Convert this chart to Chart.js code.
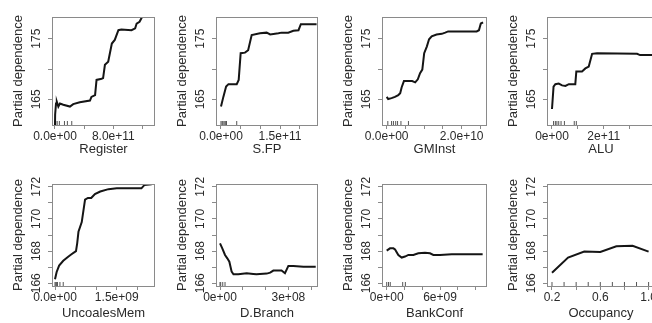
<!DOCTYPE html>
<html>
<head>
<meta charset="utf-8">
<script src="https://cdn.jsdelivr.net/npm/chart.js@4.4.0/dist/chart.umd.min.js"></script>
<style>
  html, body { margin: 0; padding: 0; background: #fff; overflow: hidden; }
  body { width: 652px; height: 323px; position: relative; }
  canvas { position: absolute; }
</style>
</head>
<body>
<script>
// partial dependence curves

const registerX = [0, 0.02e11, 0.14e11, 0.25e11, 0.46e11, 0.68e11, 1.14e11, 2.05e11, 2.5e11, 3.4e11, 4.8e11, 5.0e11, 5.5e11, 5.7e11, 6.4e11, 6.6e11, 6.85e11, 7.3e11, 7.8e11, 8.2e11, 8.7e11, 9.1e11, 10.5e11, 11.0e11, 11.2e11, 11.6e11, 12.0e11, 12.4e11];
const registerY = [160.5, 162.5, 164.3, 164.6, 163.8, 164.3, 164.1, 163.8, 164.2, 164.5, 164.8, 165.4, 165.7, 168.2, 168.4, 168.5, 170.7, 171.2, 174.2, 174.8, 176.4, 176.5, 176.4, 176.7, 177.5, 177.8, 178.7, 180];
const registerRug = [0, 0.1e11, 0.3e11, 0.6e11, 1.3e11, 1.7e11, 2.3e11];
const registerTicks = [0, 4e11, 8e11, 12e11];
const registerTickLabels = ['0.0e+00', '', '8.0e+11', ''];

const sfpX = [0, 0.06e11, 0.13e11, 0.19e11, 0.4e11, 0.45e11, 0.5e11, 0.61e11, 0.69e11, 0.78e11, 0.99e11, 1.16e11, 1.25e11, 1.46e11, 1.54e11, 1.71e11, 1.84e11, 1.97e11, 2.03e11, 2.43e11];
const sfpY = [163.8, 165.4, 167.1, 167.5, 167.5, 168.2, 172.6, 172.7, 173.1, 175.6, 175.9, 176.0, 175.7, 175.9, 176.0, 176.0, 176.3, 176.4, 177.4, 177.4];
const sfpRug = [0, 0.03e11, 0.05e11, 0.08e11, 0.11e11, 0.14e11, 0.4e11];
const sfpTicks = [0, 0.5e11, 1e11, 1.5e11, 2e11];
const sfpTickLabels = ['0.0e+00', '', '', '1.5e+11', ''];

const gminstX = [0, 0.04e10, 0.13e10, 0.22e10, 0.31e10, 0.36e10, 0.4e10, 0.46e10, 0.62e10, 0.68e10, 0.76e10, 0.83e10, 0.89e10, 0.95e10, 1.0e10, 1.07e10, 1.13e10, 1.2e10, 1.33e10, 1.47e10, 1.56e10, 1.64e10, 2.09e10, 2.4e10, 2.46e10, 2.51e10, 2.57e10];
const gminstY = [165.4, 165.05, 165.2, 165.4, 165.7, 166.0, 167.0, 168.0, 168.0, 168.0, 167.8, 168.3, 169.3, 169.9, 172.6, 173.7, 174.9, 175.4, 175.7, 175.8, 176.0, 176.2, 176.2, 176.2, 176.4, 177.5, 177.7];
const gminstRug = [0.03e10, 0.13e10, 0.18e10, 0.24e10, 0.29e10, 0.38e10, 0.58e10];
const gminstTicks = [0, 0.5e10, 1e10, 1.5e10, 2e10, 2.5e10];
const gminstTickLabels = ['0.0e+00', '', '', '', '2.0e+10', ''];

const aluX = [0, 0.06e11, 0.13e11, 0.26e11, 0.39e11, 0.52e11, 0.65e11, 0.9e11, 0.94e11, 1.16e11, 1.29e11, 1.42e11, 1.55e11, 1.74e11, 3.29e11, 3.4e11, 3.9e11];
const aluY = [163.4, 167.1, 167.5, 167.6, 167.3, 167.2, 167.5, 167.5, 169.6, 169.6, 170.1, 170.4, 172.5, 172.6, 172.5, 172.3, 172.3];
const aluRug = [0.06e11, 0.13e11, 0.19e11, 0.26e11, 0.35e11, 0.48e11, 0.86e11, 0.94e11];
const aluTicks = [0, 1e11, 2e11, 3e11];
const aluTickLabels = ['0e+00', '', '2e+11', ''];

const uncoalesX = [0, 0.04e9, 0.1e9, 0.2e9, 0.32e9, 0.4e9, 0.51e9, 0.54e9, 0.57e9, 0.65e9, 0.73e9, 0.8e9, 0.88e9, 0.97e9, 1.1e9, 1.3e9, 1.5e9, 2.1e9, 2.17e9, 2.35e9];
const uncoalesY = [166.25, 166.7, 167.1, 167.4, 167.65, 167.8, 168.0, 168.5, 169.2, 169.8, 171.2, 171.3, 171.3, 171.55, 171.7, 171.85, 171.9, 171.9, 172.1, 172.15];
const uncoalesRug = [0, 0.02e9, 0.04e9, 0.06e9, 0.12e9, 0.2e9];
const uncoalesTicks = [0, 0.5e9, 1e9, 1.5e9, 2e9];
const uncoalesTickLabels = ['0.0e+00', '', '', '1.5e+09', ''];

const dbranchX = [0, 0.1e8, 0.22e8, 0.32e8, 0.41e8, 0.51e8, 0.59e8, 0.8e8, 1.17e8, 1.46e8, 1.6e8, 2.05e8, 2.2e8, 2.34e8, 2.7e8, 2.85e8, 3.0e8, 3.22e8, 3.66e8, 4.2e8];
const dbranchY = [168.48, 168.17, 167.76, 167.55, 167.34, 166.72, 166.56, 166.56, 166.62, 166.58, 166.56, 166.6, 166.66, 166.79, 166.79, 166.62, 167.08, 167.08, 167.03, 167.03];
const dbranchRug = [0, 0.03e8, 0.12e8, 0.22e8];
const dbranchTicks = [0, 1e8, 2e8, 3e8, 4e8];
const dbranchTickLabels = ['0e+00', '', '', '3e+08', ''];

const bankX = [0, 0.37e9, 0.75e9, 0.94e9, 1.31e9, 1.69e9, 2.06e9, 2.44e9, 3.0e9, 3.56e9, 4.31e9, 4.87e9, 5.25e9, 6.0e9, 7.31e9, 10.8e9];
const bankY = [168.03, 168.17, 168.17, 168.1, 167.76, 167.6, 167.66, 167.76, 167.76, 167.86, 167.9, 167.86, 167.76, 167.76, 167.8, 167.8];
const bankRug = [0, 0.2e9, 0.4e9, 1.8e9, 2.1e9];
const bankTicks = [0, 2e9, 4e9, 6e9, 8e9, 10e9];
const bankTickLabels = ['0e+00', '', '', '6e+09', '', ''];

const occX = [0.2, 0.333, 0.467, 0.6, 0.733, 0.867, 1.0];
const occY = [166.65, 167.6, 167.97, 167.95, 168.3, 168.33, 167.97];
const occRug = [0.2, 0.3, 0.4, 0.5, 0.6, 0.7, 0.8, 0.9, 1.0];
const occTicks = [0.2, 0.4, 0.6, 0.8, 1.0];
const occTickLabels = ['0.2', '', '0.6', '', '1.0'];

const topYTicks = [165, 170, 175];
const topYLabels = ['165', '', '175'];
const bottomYTicks = [166, 167, 168, 169, 170, 171, 172];
const bottomYLabels = ['166', '', '168', '', '170', '', '172'];

// layout of the 2x4 grid (box edges in page pixels)
const colLeft = [52, 216, 382, 547];
const colRight = [155, 318, 487, 655];
const rowTop = [17, 184];
const rowBottom = [125, 286];
const rowY = [
    { min: 160.76, max: 178.58, ticks: topYTicks, labels: topYLabels, titlePad: 8 },
    { min: 165.83, max: 172.17, ticks: bottomYTicks, labels: bottomYLabels, titlePad: 4.5 }
];

const panels = [
    { name: 'Register', row: 0, col: 0, x: registerX, y: registerY, rug: registerRug, ticks: registerTicks, tickLabels: registerTickLabels, xMin: -0.41e11, xMax: 13.72e11 },
    { name: 'S.FP', row: 0, col: 1, x: sfpX, y: sfpY, rug: sfpRug, ticks: sfpTicks, tickLabels: sfpTickLabels, xMin: -0.127e11, xMax: 2.466e11 },
    { name: 'GMInst', row: 0, col: 2, x: gminstX, y: gminstY, rug: gminstRug, ticks: gminstTicks, tickLabels: gminstTickLabels, xMin: -0.125e10, xMax: 2.675e10 },
    { name: 'ALU', row: 0, col: 3, x: aluX, y: aluY, rug: aluRug, ticks: aluTicks, tickLabels: aluTickLabels, xMin: -0.193e11, xMax: 3.98e11 },
    { name: 'UncoalesMem', row: 1, col: 0, x: uncoalesX, y: uncoalesY, rug: uncoalesRug, ticks: uncoalesTicks, tickLabels: uncoalesTickLabels, xMin: -0.073e9, xMax: 2.43e9 },
    { name: 'D.Branch', row: 1, col: 1, x: dbranchX, y: dbranchY, rug: dbranchRug, ticks: dbranchTicks, tickLabels: dbranchTickLabels, xMin: -0.176e8, xMax: 4.30e8 },
    { name: 'BankConf', row: 1, col: 2, x: bankX, y: bankY, rug: bankRug, ticks: bankTicks, tickLabels: bankTickLabels, xMin: -0.53e9, xMax: 11.29e9 },
    { name: 'Occupancy', row: 1, col: 3, x: occX, y: occY, rug: occRug, ticks: occTicks, tickLabels: occTickLabels, xMin: 0.1586, xMax: 1.053 }
];

const FONT = "'Liberation Sans', Arial, sans-serif";
const TEXT = '#2a2a2a';
const AXIS = '#8a8a8a';
const Y_AXIS_W = 52;
const PAD_TOP = 17;
const PAD_RIGHT = 12;
const X_AXIS_H = 40;

// R style box round the plot region
const boxPlugin = {
    id: 'box',
    afterDraw(chart) {
        const { ctx, chartArea: a } = chart;
        ctx.save();
        ctx.strokeStyle = AXIS;
        ctx.lineWidth = 1;
        ctx.strokeRect(Math.round(a.left) + 0.5, Math.round(a.top) + 0.5,
            Math.round(a.right - a.left) - 1, Math.round(a.bottom - a.top));
        ctx.restore();
    }
};

function makePanel(p) {
    const yInfo = rowY[p.row];
    const boxW = colRight[p.col] - colLeft[p.col];
    const boxH = rowBottom[p.row] - rowTop[p.row];
    const w = Y_AXIS_W + boxW + PAD_RIGHT;
    const h = PAD_TOP + boxH + X_AXIS_H;

    const canvas = document.createElement('canvas');
    canvas.width = w;
    canvas.height = h;
    canvas.style.width = w + 'px';
    canvas.style.height = h + 'px';
    canvas.style.left = (colLeft[p.col] - Y_AXIS_W) + 'px';
    canvas.style.top = (rowTop[p.row] - PAD_TOP) + 'px';
    document.body.appendChild(canvas);

    new Chart(canvas.getContext('2d'), {
        type: 'scatter',
        data: {
            datasets: [
                {
                    data: p.x.map((v, i) => ({ x: v, y: p.y[i] })),
                    showLine: true,
                    borderColor: '#151515',
                    borderWidth: 2,
                    pointRadius: 0,
                    tension: 0,
                    clip: 0
                },
                {
                    data: p.rug.map(v => ({ x: v, y: yInfo.min })),
                    showLine: false,
                    pointStyle: 'line',
                    rotation: 90,
                    pointRadius: 4,
                    borderColor: '#555',
                    borderWidth: 1,
                    clip: 0
                }
            ]
        },
        options: {
            responsive: false,
            animation: false,
            events: [],
            layout: { padding: { top: PAD_TOP, right: PAD_RIGHT, left: 0, bottom: 0 } },
            plugins: { legend: { display: false }, tooltip: { enabled: false } },
            scales: {
                x: {
                    type: 'linear',
                    min: p.xMin,
                    max: p.xMax,
                    afterBuildTicks: s => { s.ticks = p.ticks.map(v => ({ value: v })); },
                    afterFit: s => { s.height = X_AXIS_H; },
                    ticks: {
                        autoSkip: false, minRotation: 0, maxRotation: 0, padding: 0,
                        color: TEXT, font: { family: FONT, size: 12 },
                        callback: (v, i) => p.tickLabels[i]
                    },
                    grid: { display: true, drawOnChartArea: false, drawTicks: true, tickLength: 4, color: AXIS },
                    border: { display: false },
                    title: {
                        display: true, text: p.name, color: TEXT,
                        font: { family: FONT, size: 13, lineHeight: 1.2 },
                        padding: { top: 0, bottom: yInfo.titlePad }
                    }
                },
                y: {
                    type: 'linear',
                    min: yInfo.min,
                    max: yInfo.max,
                    afterBuildTicks: s => { s.ticks = yInfo.ticks.map(v => ({ value: v })); },
                    afterFit: s => { s.width = Y_AXIS_W; },
                    ticks: {
                        autoSkip: false, minRotation: 90, maxRotation: 90, crossAlign: 'center', padding: 1,
                        color: TEXT, font: { family: FONT, size: 12 },
                        callback: (v, i) => yInfo.labels[i]
                    },
                    grid: { display: true, drawOnChartArea: false, drawTicks: true, tickLength: 4, color: AXIS },
                    border: { display: false },
                    title: {
                        display: true, text: 'Partial dependence', color: TEXT,
                        font: { family: FONT, size: 13, lineHeight: 1.2 },
                        padding: { top: 11, bottom: 0 }
                    }
                }
            }
        },
        plugins: [boxPlugin]
    });
}

panels.forEach(makePanel);
</script>
</body>
</html>
